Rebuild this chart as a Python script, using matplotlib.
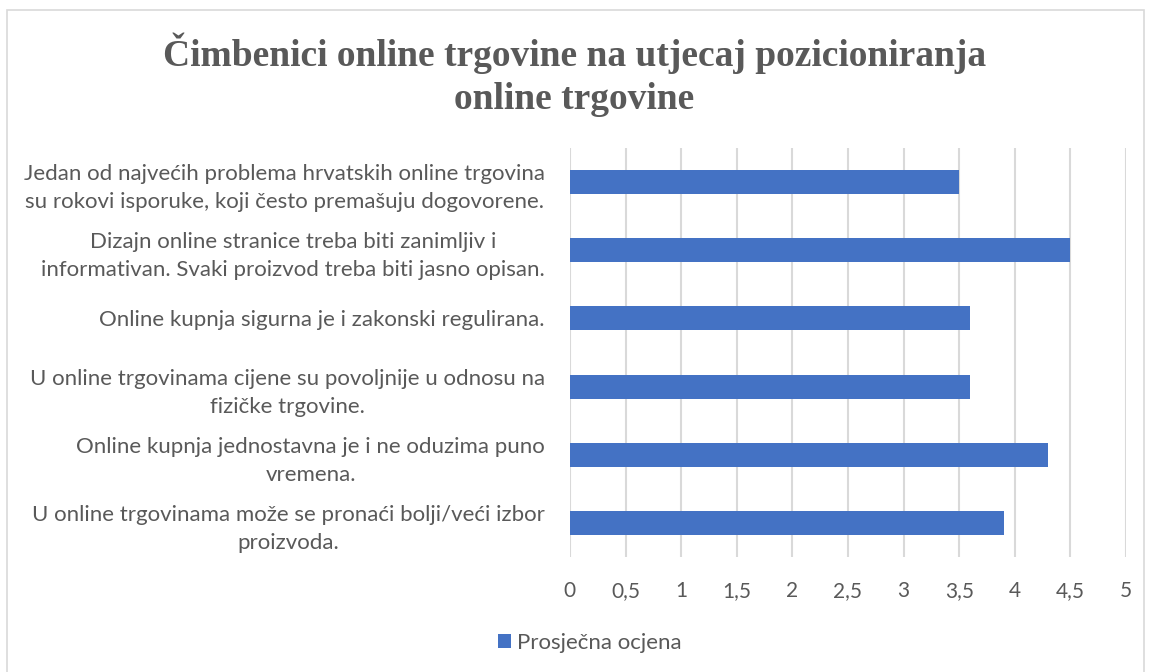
import matplotlib.pyplot as plt
from matplotlib.patches import Rectangle

categories = [
    'Jedan od najvećih problema hrvatskih online trgovina\nsu rokovi isporuke, koji često premašuju dogovorene.',
    'Dizajn online stranice treba biti zanimljiv i\ninformativan. Svaki proizvod treba biti jasno opisan.',
    'Online kupnja sigurna je i zakonski regulirana.',
    'U online trgovinama cijene su povoljnije u odnosu na\nfizičke trgovine.',
    'Online kupnja jednostavna je i ne oduzima puno\nvremena.',
    'U online trgovinama može se pronaći bolji/veći izbor\nproizvoda.',
]
values = [3.5, 4.5, 3.6, 3.6, 4.3, 3.9]
x_ticks = [0, 0.5, 1, 1.5, 2, 2.5, 3, 3.5, 4, 4.5, 5]
x_labels = ['0', '0,5', '1', '1,5', '2', '2,5', '3', '3,5', '4', '4,5', '5']

text_color = '#595959'
bar_color = '#4472C4'

plt.rcParams['font.family'] = ['Lato', 'DejaVu Sans']

fig = plt.figure(figsize=(11.49, 6.72), dpi=100)
ax = fig.add_axes([0.496, 0.171, 0.484, 0.609])

pos = list(range(len(categories)))[::-1]
bars = ax.barh(pos, values, height=0.35, color=bar_color, label='Prosječna ocjena', zorder=3)

ax.set_xlim(0, 5)
ax.set_ylim(-0.5, len(categories) - 0.5)
ax.set_xticks(x_ticks)
ax.set_xticklabels(x_labels, fontsize=15, color=text_color)
ax.set_yticks(pos)
ax.set_yticklabels(categories, fontsize=16, color=text_color)
for lbl in ax.get_yticklabels():
    lbl.set_multialignment('center')
    lbl.set_linespacing(1.5)
ax.tick_params(axis='both', length=0)
ax.tick_params(axis='y', pad=18)
ax.tick_params(axis='x', pad=17)
ax.grid(axis='x', color='#d9d9d9', linewidth=1.5, zorder=0)
for s in ax.spines.values():
    s.set_visible(False)

fig.text(0.5, 0.889, 'Čimbenici online trgovine na utjecaj pozicioniranja\nonline trgovine',
         ha='center', va='center', fontsize=27, fontweight='bold', color=text_color,
         family='Liberation Serif', linespacing=1.3)

fig.legend(handles=[bars], labels=['Prosječna ocjena'], loc='center', bbox_to_anchor=(0.513, 0.043),
           frameon=False, fontsize=16, labelcolor=text_color, handlelength=0.6, handleheight=0.6,
           handletextpad=0.25)

fig.patches.append(Rectangle((0.006, -0.01), 0.99, 0.995, transform=fig.transFigure,
                             fill=False, edgecolor='#d9d9d9', linewidth=1.2))

fig.savefig('out.png', dpi=100, facecolor='white')
